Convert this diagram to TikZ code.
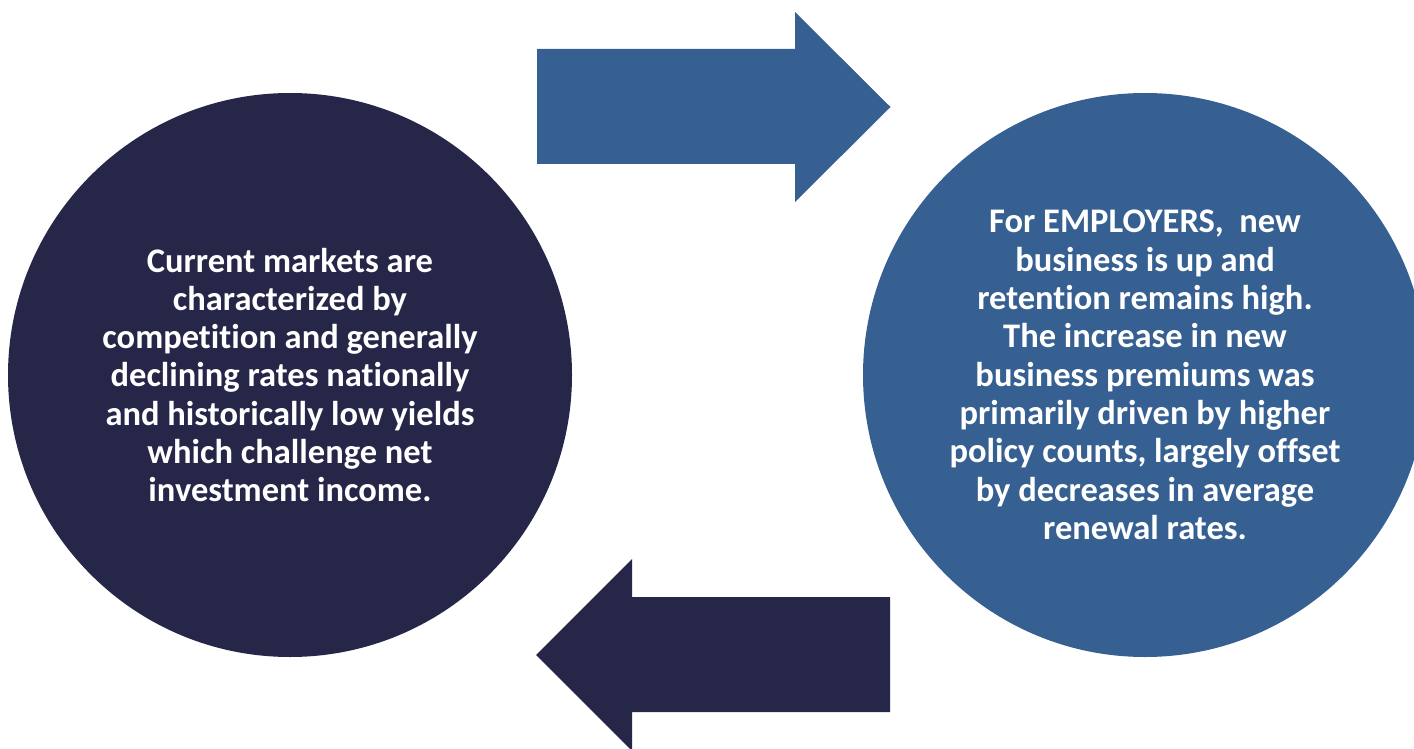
\documentclass[tikz,border=0pt]{standalone}
\usepackage{fontspec}
\setmainfont{Carlito}[Ligatures=NoCommon]
\definecolor{navy}{HTML}{262649}
\definecolor{steel}{HTML}{376092}
\begin{document}
\begin{tikzpicture}[x=1pt,y=-1pt,
  bubble/.style={circle,minimum size=564pt,inner sep=0pt,text=white,align=center,
     font=\fontsize{34.5}{38.3}\selectfont\bfseries}]
\useasboundingbox (0,0) rectangle (1414,749);
\clip (0,0) rectangle (1414,749);
\node[bubble,fill=navy] (left) at (290,375) {Current markets are\\characterized by\\competition and generally\\declining rates nationally\\and historically low yields\\which challenge net\\investment income.};
\node[bubble,fill=steel] (right) at (1145,375) {For EMPLOYERS,~ new\\business is up and\\retention remains high.\\The increase in new\\business premiums was\\primarily driven by higher\\policy counts, largely offset\\by decreases in average\\renewal rates.};
\fill[steel] (537,49) -- (795,49) -- (795,12) -- (890.5,107) -- (795,202) -- (795,164) -- (537,164) -- cycle;
\fill[navy] (890,597) -- (632,597) -- (632,559) -- (536,655) -- (632,751) -- (632,712) -- (890,712) -- cycle;
\end{tikzpicture}
\end{document}
